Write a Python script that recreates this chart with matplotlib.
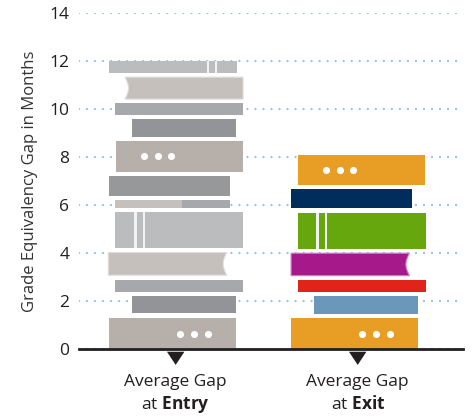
import numpy as np
import matplotlib.pyplot as plt
from matplotlib.patches import Polygon, Rectangle
from matplotlib.colors import to_rgb

plt.rcParams['font.family'] = ['Open Sans', 'DejaVu Sans']
plt.rcParams['mathtext.fontset'] = 'custom'
plt.rcParams['mathtext.rm'] = 'Open Sans'
plt.rcParams['mathtext.bf'] = 'Open Sans:bold'

# data
categories = ["Entry", "Exit"]
avg_gap = [12.0, 8.1]
y_ticks = [0, 2, 4, 6, 8, 10, 12, 14]

# colours
WARM = "#B7AFAA"
DARK = "#939497"
DARK2 = "#97989A"
MID = "#A7A8AC"
LIGHTW = "#C5C0BC"
LIGHTG = "#BBBCBE"
ORANGE = "#E89E25"
STEEL = "#6A97BA"
RED = "#E2231A"
MAGENTA = "#A6198B"
GREEN = "#65A70D"
NAVY = "#002D5C"
TEXT = "#231F20"
GRID = "#8FBDE6"

# book layout: relative thickness, left / right offset from column centre, colour, decoration
entry_books = [
    (1.31, -0.366, 0.331, WARM, "dots_r"),
    (0.73, -0.240, 0.331, DARK, None),
    (0.50, -0.333, 0.370, MID, None),
    (0.94, -0.370, 0.280, LIGHTW, "concave_r"),
    (1.51, -0.333, 0.370, LIGHTG, "stripes_l"),
    (0.32, -0.333, 0.299, (LIGHTW, MID), "split"),
    (0.82, -0.366, 0.299, DARK2, None),
    (1.25, -0.328, 0.370, WARM, "dots_l"),
    (0.74, -0.240, 0.331, DARK, None),
    (0.48, -0.333, 0.370, MID, None),
    (0.91, -0.278, 0.370, LIGHTW, "concave_l"),
    (0.48, -0.366, 0.337, LIGHTG, "stripes_r"),
]
exit_books = [
    (1.31, -0.366, 0.331, ORANGE, "dots_r"),
    (0.73, -0.240, 0.331, STEEL, None),
    (0.50, -0.328, 0.375, RED, None),
    (0.94, -0.366, 0.284, MAGENTA, "concave_r"),
    (1.51, -0.328, 0.375, GREEN, "stripes_l"),
    (0.82, -0.366, 0.299, NAVY, None),
    (1.24, -0.328, 0.370, ORANGE, "dots_l"),
]
GAP = 0.18
DEPTH = 0.019


def lighter(c, f=0.45):
    r, g, b = to_rgb(c)
    return (r + (1 - r) * f, g + (1 - g) * f, b + (1 - b) * f)


def draw_book(ax, xc, y0, h, left, right, color, extra):
    x0, x1 = xc + left, xc + right
    if extra == "split":
        xs = xc + 0.035
        ax.add_patch(Rectangle((x0, y0), xs - x0, h, fc=color[0], ec="none", zorder=2))
        ax.add_patch(Rectangle((xs, y0), x1 - xs, h, fc=color[1], ec="none", zorder=2))
        return
    if extra in ("concave_r", "concave_l"):
        t = np.linspace(0, 1, 30)
        ys = y0 + t * h
        if extra == "concave_r":
            xs = x1 - DEPTH * np.sin(np.pi * t)
            pts = [(x0, y0 + h), (x0, y0)] + list(zip(xs, ys))
        else:
            xs = x0 + DEPTH * np.sin(np.pi * t)
            pts = [(x1, y0), (x1, y0 + h)] + list(zip(xs[::-1], ys[::-1]))
        ax.add_patch(Polygon(pts, closed=True, fc=color, ec=lighter(color),
                             lw=0.8, zorder=2))
        return
    ax.add_patch(Rectangle((x0, y0), x1 - x0, h, fc=color, ec="none", zorder=2))
    ym = y0 + h / 2
    if extra == "dots_r":
        ax.scatter(xc + np.array([0.026, 0.101, 0.176]), [ym] * 3, s=26,
                   color="white", zorder=3, linewidths=0)
    elif extra == "dots_l":
        ax.scatter(xc + np.array([-0.174, -0.099, -0.024]), [ym] * 3, s=26,
                   color="white", zorder=3, linewidths=0)
    elif extra in ("stripes_l", "stripes_r"):
        centres = [-0.221, -0.173] if extra == "stripes_l" else [0.176, 0.223]
        for c in centres:
            ax.add_patch(Rectangle((xc + c - 0.0065, y0), 0.013, h,
                                   fc="#F2F2F2", ec="none", zorder=3))


def draw_stack(ax, xc, total, books):
    thick = [b[0] for b in books]
    scale = (total - GAP * (len(books) - 1)) / sum(thick)
    y = 0.0
    for t, left, right, color, extra in books:
        h = t * scale
        draw_book(ax, xc, y, h, left, right, color, extra)
        y += h + GAP


fig = plt.figure(figsize=(4.74, 4.17), dpi=100)
ax = fig.add_axes([0.1667, 0.1623, 0.8103, 0.8058])

ax.set_xlim(-0.531, 1.579)
ax.set_ylim(0, 14)
ax.set_yticks(y_ticks)
ax.tick_params(axis="y", length=0, pad=7, labelsize=12.5, labelcolor=TEXT)
ax.set_xticks([])
for s in ["top", "right", "left"]:
    ax.spines[s].set_visible(False)
ax.spines["bottom"].set_linewidth(2)
ax.spines["bottom"].set_color(TEXT)
ax.spines["bottom"].set_zorder(5)

ax.set_axisbelow(True)
ax.yaxis.grid(True, color=GRID, linewidth=1.6, linestyle=(0, (0.01, 3.6)),
              dash_capstyle="round")

ax.set_ylabel("Grade Equivalency Gap in Months", fontsize=12, color="#333333")
ax.yaxis.set_label_coords(-0.108, 0.5)

for i, (cat, val) in enumerate(zip(categories, avg_gap)):
    books = entry_books if i == 0 else exit_books
    draw_stack(ax, i, val, books)
    ax.add_patch(Polygon([(i - 0.048, -0.1), (i + 0.048, -0.1), (i, -0.65)],
                         closed=True, fc=TEXT, ec="none", clip_on=False, zorder=5))
    ax.text(i, -1.35, "Average Gap", ha="center", va="center", fontsize=12.5,
            color=TEXT, clip_on=False)
    ax.text(i, -2.28, r"at $\mathbf{" + cat + "}$", ha="center", va="center",
            fontsize=12.5, color=TEXT, clip_on=False)

fig.savefig("out.png", dpi=100)
